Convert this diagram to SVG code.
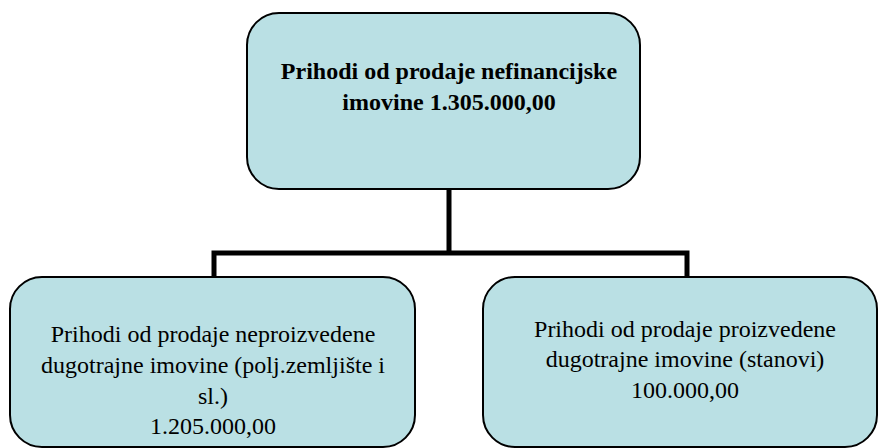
<svg xmlns="http://www.w3.org/2000/svg" width="878" height="448" viewBox="0 0 878 448">
<style>
.node-box{fill:#BAE0E4;stroke:#000;stroke-width:2}
.lbl{fill:#000;text-anchor:middle}
.conn{fill:none;stroke:#000;stroke-width:5;stroke-linejoin:miter}
</style>
<rect width="878" height="448" fill="#fff"/>
<g id="connectors">
<path class="conn" d="M449,189 V253 M214,277 V253 H687 V277"/>
</g>
<g id="node-top">
<rect class="node-box" x="247" y="13" width="393" height="176" rx="32"/>
<text class="lbl" font-family="Liberation Serif" font-size="24" font-weight="bold" x="449" y="79">Prihodi od prodaje nefinancijske</text>
<text class="lbl" font-family="Liberation Serif" font-size="24" font-weight="bold" x="449" y="110">imovine 1.305.000,00</text>
</g>
<g id="node-left">
<rect class="node-box" x="10" y="277" width="405" height="170" rx="32"/>
<text class="lbl" font-family="Liberation Serif" font-size="24" x="213" y="342">Prihodi od prodaje neproizvedene</text>
<text class="lbl" font-family="Liberation Serif" font-size="24" x="213" y="373">dugotrajne imovine (polj.zemljište i</text>
<text class="lbl" font-family="Liberation Serif" font-size="24" x="213" y="404">sl.)</text>
<text class="lbl" font-family="Liberation Serif" font-size="24" x="213" y="434">1.205.000,00</text>
</g>
<g id="node-right">
<rect class="node-box" x="483" y="277" width="394" height="170" rx="32"/>
<text class="lbl" font-family="Liberation Serif" font-size="24" x="685" y="337">Prihodi od prodaje proizvedene</text>
<text class="lbl" font-family="Liberation Serif" font-size="24" x="685" y="367">dugotrajne imovine (stanovi)</text>
<text class="lbl" font-family="Liberation Serif" font-size="24" x="685" y="398">100.000,00</text>
</g>
</svg>
